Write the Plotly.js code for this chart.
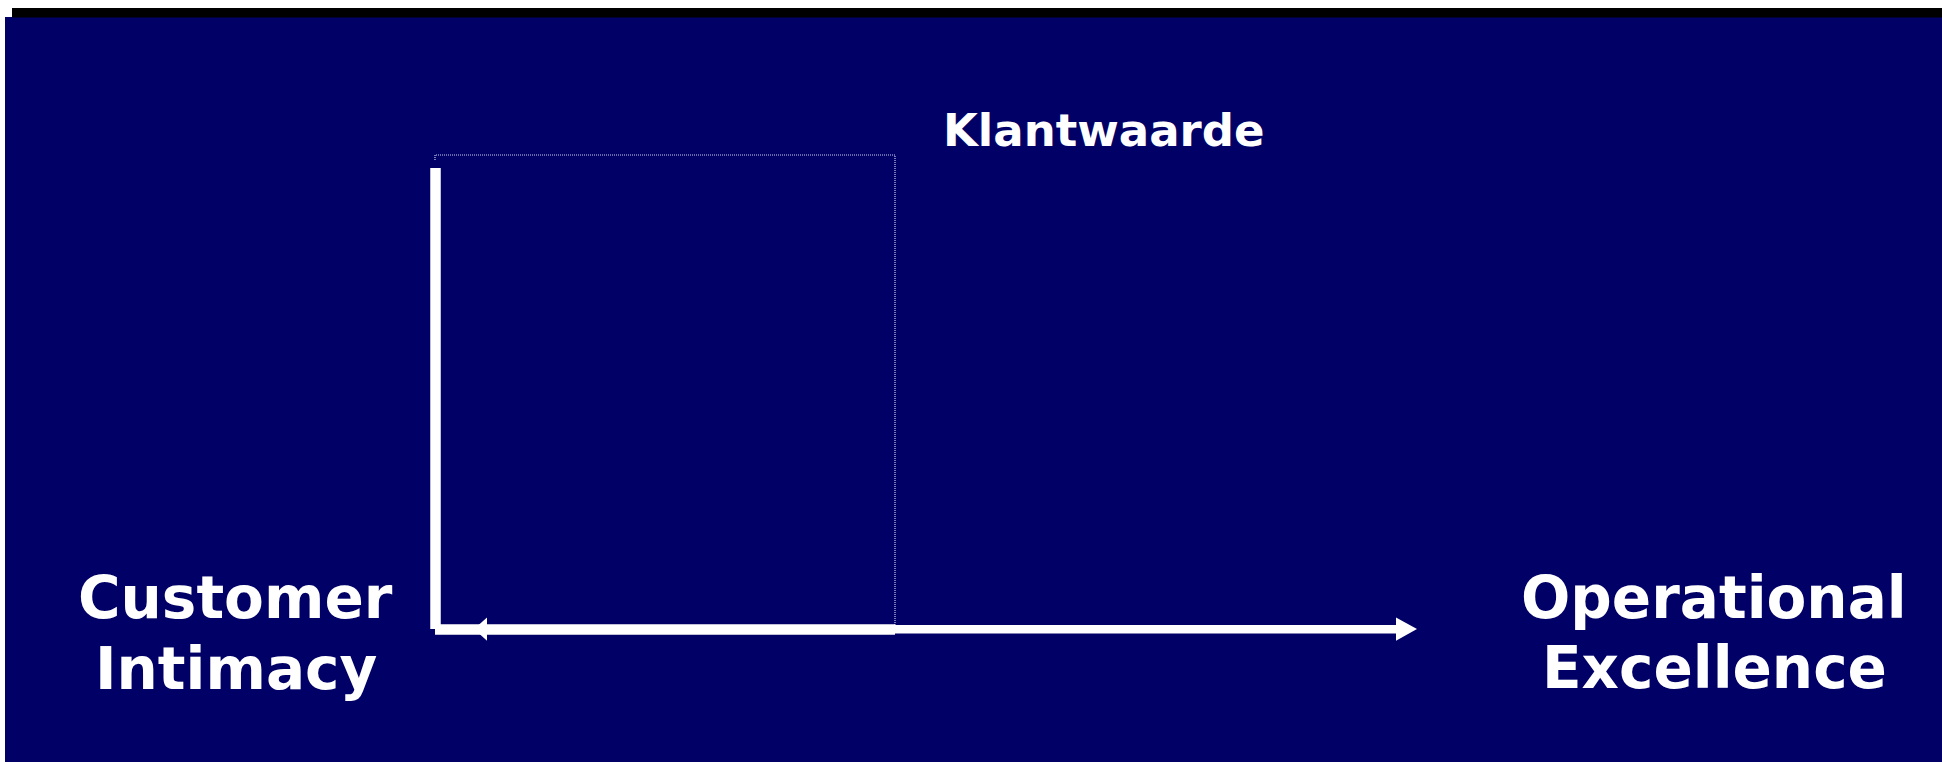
<!DOCTYPE html>
<html>
<head>
<meta charset="utf-8">
<script src="https://cdn.plot.ly/plotly-3.0.1.min.js"></script>
<style>
  html, body { margin: 0; padding: 0; background: #ffffff; }
  #chart { width: 1942px; height: 762px; }
</style>
</head>
<body>
<div id="chart"></div>
<script>
// ---- Diagram data (in the diagram's own coordinate units) ----
// Dotted "Klantwaarde" frame
const frameX = [435, 435, 895, 895];
const frameY = [160, 155, 155, 625];
// Customer Intimacy axis (vertical) and base line
const ciAxisX = [435.5, 435.5];
const ciAxisY = [168, 629];
const baseX = [435, 895];
const baseY = [629.5, 629.5];
// Operational Excellence axis
const oeAxisX = [895, 1397];
const oeAxisY = [629.3, 629.3];
// Arrow heads
const headLeftX = [474, 487, 487];
const headLeftY = [629, 617.5, 640.7];
const headRightX = [1417, 1396, 1396];
const headRightY = [629, 617.5, 640.7];
// Labels
const labelText = ['Klantwaarde', 'Customer', 'Intimacy', 'Operational', 'Excellence'];
const labelX = [1103, 235, 236, 1714, 1714];
const labelY = [130, 598, 669, 598, 668];
const labelSize = [45, 58, 58, 58, 58];

const NAVY = '#000066';
const WHITE = '#ffffff';

function lineTrace(x, y, color, width, dash) {
  return { type: 'scatter', mode: 'lines', x: x, y: y,
    line: { color: color, width: width, dash: dash || 'solid', shape: 'linear' },
    hoverinfo: 'skip', showlegend: false };
}
function triTrace(x, y) {
  return { type: 'scatter', mode: 'lines', x: x, y: y, fill: 'toself',
    fillcolor: WHITE, line: { width: 0, color: WHITE },
    hoverinfo: 'skip', showlegend: false };
}

const traces = [
  lineTrace(frameX, frameY, 'rgba(205,205,240,1)', 1.2, '1px,1px'),
  lineTrace(ciAxisX, ciAxisY, WHITE, 10.5),
  lineTrace(baseX, baseY, WHITE, 10.5),
  lineTrace(oeAxisX, oeAxisY, WHITE, 8.5),
  triTrace(headLeftX, headLeftY),
  triTrace(headRightX, headRightY)
];

const annotations = labelText.map((t, i) => ({
  text: t, x: labelX[i], y: labelY[i], xref: 'x', yref: 'y',
  xanchor: 'center', yanchor: 'middle', showarrow: false,
  font: { family: 'DejaVu Sans, Liberation Sans, Arial, sans-serif', size: labelSize[i], color: WHITE, weight: 'bold' }
}));

const layout = {
  width: 1942, height: 762, autosize: false,
  margin: { l: 0, r: 0, t: 0, b: 0, pad: 0 },
  paper_bgcolor: WHITE, plot_bgcolor: 'rgba(0,0,0,0)',
  xaxis: { range: [0, 1942], visible: false, fixedrange: true },
  yaxis: { range: [762, 0], visible: false, fixedrange: true },
  shapes: [
    { type: 'rect', xref: 'x', yref: 'y', x0: 5, x1: 1942, y0: 17, y1: 762,
      fillcolor: NAVY, line: { width: 0 }, layer: 'below' },
    { type: 'rect', xref: 'x', yref: 'y', x0: 12, x1: 1942, y0: 8, y1: 17.5,
      fillcolor: '#000000', line: { width: 0 }, layer: 'below' }
  ],
  annotations: annotations,
  showlegend: false
};

Plotly.newPlot('chart', traces, layout, { displayModeBar: false, staticPlot: true });
</script>
</body>
</html>
